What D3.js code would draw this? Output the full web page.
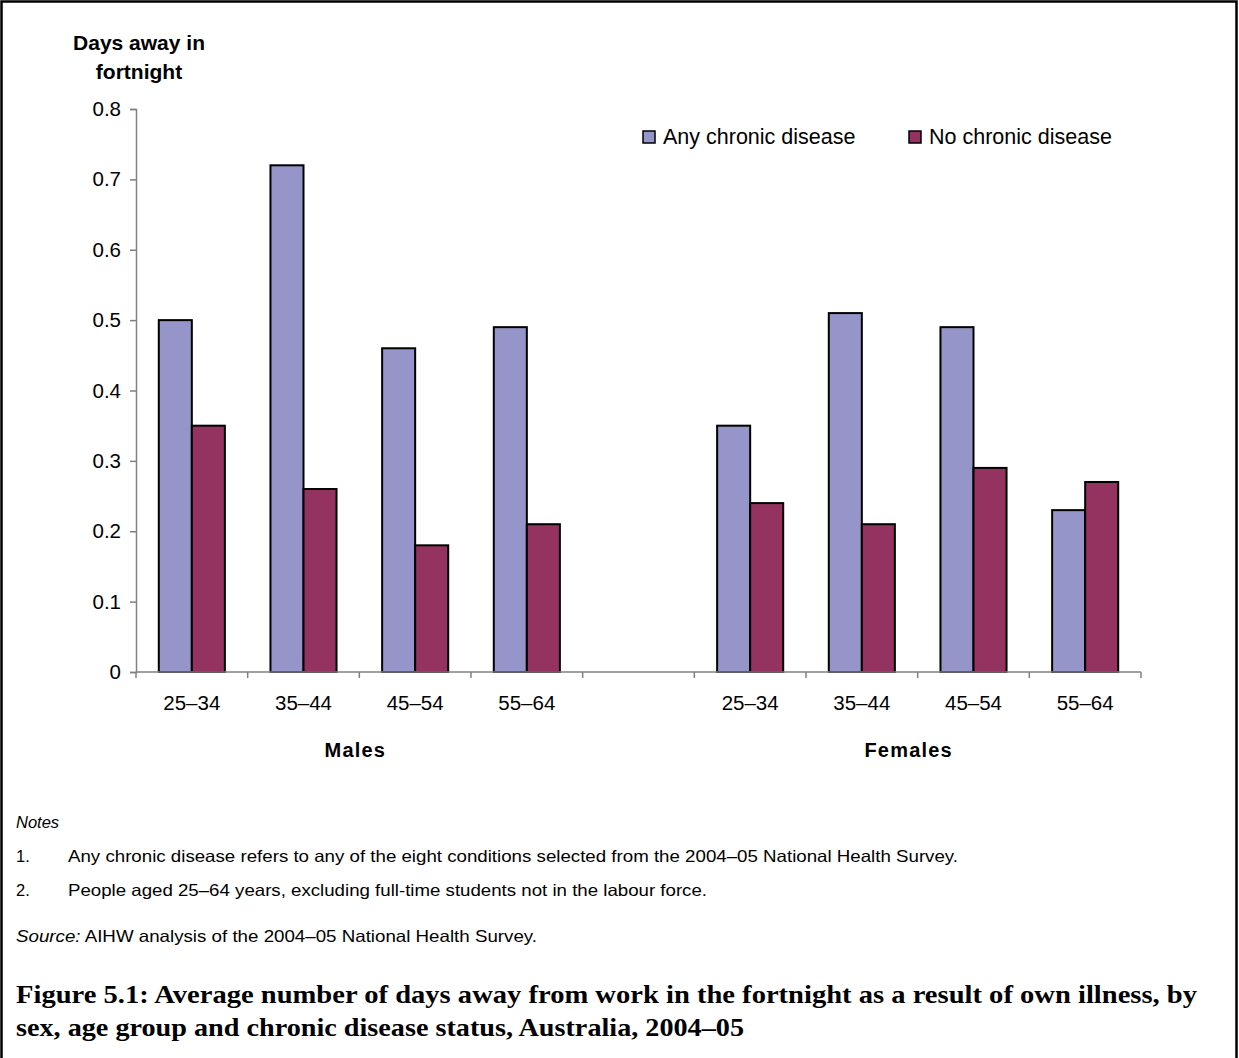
<!DOCTYPE html>
<html>
<head>
<meta charset="utf-8">
<script src="https://cdn.jsdelivr.net/npm/d3@7"></script>
<style>
  html, body { margin: 0; padding: 0; background: #fff; }
  svg { display: block; font-family: "Liberation Sans", Arial, sans-serif; }
  text { fill: #000; }
</style>
</head>
<body>
<svg id="chart" width="1239" height="1058"></svg>
<script>
// Days away from work in the fortnight, by sex, age group and chronic disease status
const ageGroups = ["25–34", "35–44", "45–54", "55–64"];
const sexes = ["Males", "Females"];
const seriesNames = ["Any chronic disease", "No chronic disease"];
const maleAny = [0.50, 0.72, 0.46, 0.49];
const maleNone = [0.35, 0.26, 0.18, 0.21];
const femaleAny = [0.35, 0.51, 0.49, 0.23];
const femaleNone = [0.24, 0.21, 0.29, 0.27];
const yTicks = [0, 0.1, 0.2, 0.3, 0.4, 0.5, 0.6, 0.7, 0.8];
const notes = [
  "Any chronic disease refers to any of the eight conditions selected from the 2004–05 National Health Survey.",
  "People aged 25–64 years, excluding full-time students not in the labour force."
];
const captionLines = [
  "Figure 5.1: Average number of days away from work in the fortnight as a result of own illness, by",
  "sex, age group and chronic disease status, Australia, 2004–05"
];

const colors = ["#9595C9", "#953360"];
const sans = "'Liberation Sans', Arial, sans-serif";
const serif = "'Liberation Serif', 'Times New Roman', serif";
const svg = d3.select("#chart");

// outer frame
svg.append("rect")
  .attr("x", 1.5).attr("y", 1.5).attr("width", 1235).attr("height", 1070)
  .attr("fill", "none").attr("stroke", "#000").attr("stroke-width", 2.5);

const plot = { left: 136, right: 1141, top: 109, bottom: 672 };

// one slot per age group plus an empty spacer slot between the sexes
const slots = [];
sexes.forEach((s, si) => {
  ageGroups.forEach(a => slots.push(s + "|" + a));
  if (si === 0) slots.push("spacer");
});

const x = d3.scaleBand().domain(slots).range([plot.left, plot.right]).padding(0);
const xInner = d3.scaleBand().domain([0, 1]).range([0, x.bandwidth()]).paddingInner(0).paddingOuter(0.69);
const y = d3.scaleLinear().domain([0, 0.8]).range([plot.bottom, plot.top]);

const rows = [];
ageGroups.forEach((a, i) => {
  rows.push({ slot: "Males|" + a, series: 0, value: maleAny[i] });
  rows.push({ slot: "Males|" + a, series: 1, value: maleNone[i] });
  rows.push({ slot: "Females|" + a, series: 0, value: femaleAny[i] });
  rows.push({ slot: "Females|" + a, series: 1, value: femaleNone[i] });
});

// bars
svg.append("g").selectAll("rect").data(rows).join("rect")
  .attr("x", d => x(d.slot) + xInner(d.series))
  .attr("y", d => y(d.value))
  .attr("width", xInner.bandwidth())
  .attr("height", d => y(0) - y(d.value))
  .attr("fill", d => colors[d.series])
  .attr("stroke", "#000")
  .attr("stroke-width", 2);

// y axis
const yAxis = svg.append("g")
  .attr("transform", `translate(${plot.left},0)`)
  .call(d3.axisLeft(y).tickValues(yTicks).tickSize(6).tickPadding(9)
    .tickFormat(d => d === 0 ? "0" : d3.format(".1f")(d)));
yAxis.attr("font-family", null);
yAxis.select(".domain").attr("stroke", "#808080").attr("stroke-width", 1.5);
yAxis.selectAll(".tick line").attr("stroke", "#808080").attr("stroke-width", 1.5);
yAxis.selectAll(".tick text").style("font-size", "20.5px").style("font-family", sans).attr("fill", "#000");

// x axis baseline and category boundary ticks
const xAxis = svg.append("g");
xAxis.append("line")
  .attr("x1", plot.left).attr("x2", plot.right)
  .attr("y1", y(0)).attr("y2", y(0))
  .attr("stroke", "#808080").attr("stroke-width", 1.5);
const bounds = slots.map(s => x(s)).concat([plot.right]);
xAxis.selectAll("line.tk").data(bounds).join("line")
  .attr("class", "tk")
  .attr("x1", d => d).attr("x2", d => d)
  .attr("y1", y(0)).attr("y2", y(0) + 6)
  .attr("stroke", "#808080").attr("stroke-width", 1.5);

// age group labels
xAxis.selectAll("text.cat").data(slots.filter(s => s !== "spacer")).join("text")
  .attr("class", "cat")
  .attr("x", d => x(d) + x.bandwidth() / 2)
  .attr("y", 710)
  .attr("text-anchor", "middle")
  .style("font-size", "20.5px")
  .text(d => d.split("|")[1]);

// sex group labels
sexes.forEach((s, si) => {
  const first = x(s + "|" + ageGroups[0]);
  const last = x(s + "|" + ageGroups[ageGroups.length - 1]) + x.bandwidth();
  svg.append("text")
    .attr("x", (first + last) / 2 - (si === 0 ? 4 : 9))
    .attr("y", 757)
    .attr("text-anchor", "middle")
    .style("font-size", "20px")
    .style("font-weight", "bold")
    .style("letter-spacing", "1.2px")
    .text(s);
});

// y axis title
const yTitle = svg.append("text")
  .attr("text-anchor", "middle")
  .style("font-size", "21px")
  .style("font-weight", "bold");
yTitle.append("tspan").attr("x", 139).attr("y", 50).text("Days away in");
yTitle.append("tspan").attr("x", 139).attr("y", 79).text("fortnight");

// legend
const legendPos = [643, 909];
seriesNames.forEach((n, i) => {
  const g = svg.append("g").attr("transform", `translate(${legendPos[i]},131)`);
  g.append("rect").attr("width", 12).attr("height", 12)
    .attr("fill", colors[i]).attr("stroke", "#000").attr("stroke-width", 1.5);
  g.append("text").attr("x", 20).attr("y", 13).style("font-size", "21.5px").text(n);
});

// notes and source
const small = "16.5px";
svg.append("text").attr("x", 16).attr("y", 828).style("font-size", small)
  .style("font-style", "italic").text("Notes");
const noteY = [862, 896];
const noteWidths = [890, 639];
notes.forEach((n, i) => {
  svg.append("text").attr("x", 16).attr("y", noteY[i]).style("font-size", small).text((i + 1) + ".");
  svg.append("text").attr("x", 68).attr("y", noteY[i]).style("font-size", small)
    .attr("textLength", noteWidths[i]).attr("lengthAdjust", "spacingAndGlyphs").text(n);
});
const src = svg.append("text").attr("x", 16).attr("y", 942).style("font-size", small)
  .attr("textLength", 521).attr("lengthAdjust", "spacingAndGlyphs");
src.append("tspan").style("font-style", "italic").text("Source:");
src.append("tspan").text(" AIHW analysis of the 2004–05 National Health Survey.");

// figure caption
const capY = [1003, 1036];
const capWidths = [1181, 728];
captionLines.forEach((c, i) => {
  svg.append("text")
    .attr("x", 16).attr("y", capY[i])
    .style("font-family", serif)
    .style("font-weight", "bold")
    .style("font-size", "25.5px")
    .attr("textLength", capWidths[i]).attr("lengthAdjust", "spacingAndGlyphs")
    .text(c);
});
</script>
</body>
</html>
